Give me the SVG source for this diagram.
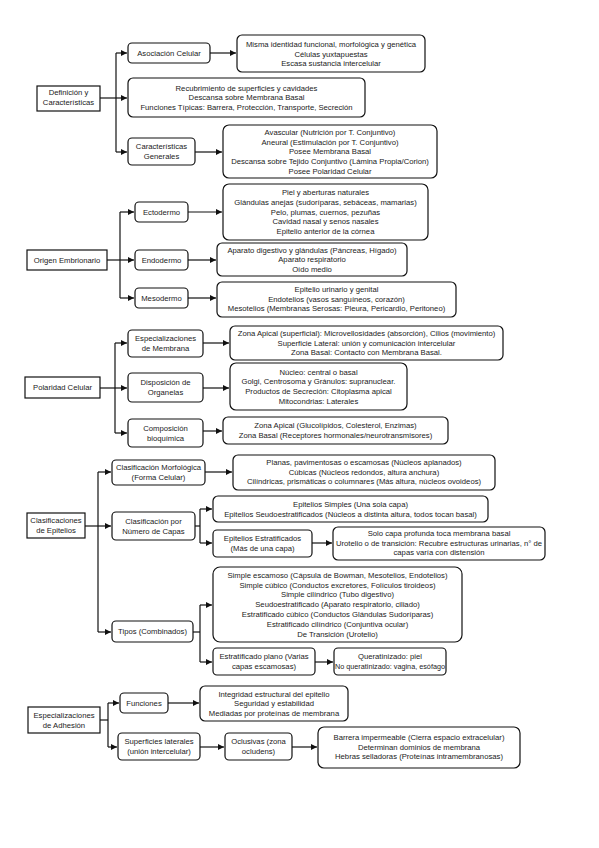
<svg xmlns="http://www.w3.org/2000/svg" width="599" height="848" viewBox="0 0 599 848">
<style>
.b{fill:#fff;stroke:#111;stroke-width:1.2}
.t{font-family:"Liberation Sans",Arial,sans-serif;font-size:7.7px;fill:#1a1a1a;text-anchor:middle}
.c{fill:none;stroke:#111;stroke-width:1.2}
</style>
<defs>
<marker id="a" markerUnits="userSpaceOnUse" markerWidth="7" markerHeight="6" refX="6" refY="3" orient="auto">
<path d="M0,0 L6,3 L0,6 Z" fill="#111"/>
</marker>
</defs>
<rect width="599" height="848" fill="#fff"/>
<g id="connectors">
<path class="c" d="M100,98 H127" marker-end="url(#a)"/>
<path class="c" d="M116,53 V152"/>
<path class="c" d="M116,53 H127" marker-end="url(#a)"/>
<path class="c" d="M116,152 H127" marker-end="url(#a)"/>
<path class="c" d="M210,53 H236" marker-end="url(#a)"/>
<path class="c" d="M195,152 H222" marker-end="url(#a)"/>
<path class="c" d="M107,260 H120"/>
<path class="c" d="M120,212 V298"/>
<path class="c" d="M120,212 H134" marker-end="url(#a)"/>
<path class="c" d="M120,260 H134" marker-end="url(#a)"/>
<path class="c" d="M120,298 H134" marker-end="url(#a)"/>
<path class="c" d="M188,212 H222" marker-end="url(#a)"/>
<path class="c" d="M188,260 H216" marker-end="url(#a)"/>
<path class="c" d="M188,298 H216" marker-end="url(#a)"/>
<path class="c" d="M100,388 H115"/>
<path class="c" d="M115,343 V433"/>
<path class="c" d="M115,343 H127" marker-end="url(#a)"/>
<path class="c" d="M115,388 H127" marker-end="url(#a)"/>
<path class="c" d="M115,433 H127" marker-end="url(#a)"/>
<path class="c" d="M203,343 H229" marker-end="url(#a)"/>
<path class="c" d="M203,388 H229" marker-end="url(#a)"/>
<path class="c" d="M203,431 H222" marker-end="url(#a)"/>
<path class="c" d="M85,526 H98"/>
<path class="c" d="M98,472 V632"/>
<path class="c" d="M98,472 H111" marker-end="url(#a)"/>
<path class="c" d="M98,526 H111" marker-end="url(#a)"/>
<path class="c" d="M98,632 H111" marker-end="url(#a)"/>
<path class="c" d="M205,472 H232" marker-end="url(#a)"/>
<path class="c" d="M195,526 H200"/>
<path class="c" d="M200,509 V543"/>
<path class="c" d="M200,509 H212" marker-end="url(#a)"/>
<path class="c" d="M200,543 H212" marker-end="url(#a)"/>
<path class="c" d="M312,543 H332" marker-end="url(#a)"/>
<path class="c" d="M193,632 H200"/>
<path class="c" d="M200,605 V662"/>
<path class="c" d="M200,605 H212" marker-end="url(#a)"/>
<path class="c" d="M200,662 H212" marker-end="url(#a)"/>
<path class="c" d="M315,662 H333" marker-end="url(#a)"/>
<path class="c" d="M100,720 H108"/>
<path class="c" d="M108,703 V747"/>
<path class="c" d="M108,703 H119" marker-end="url(#a)"/>
<path class="c" d="M108,747 H117" marker-end="url(#a)"/>
<path class="c" d="M168,703 H199" marker-end="url(#a)"/>
<path class="c" d="M200,747 H224" marker-end="url(#a)"/>
<path class="c" d="M292,747 H317" marker-end="url(#a)"/>
</g>
<g id="n1"><rect class="b" x="37" y="86" width="63" height="25"/><text class="t" x="68.5" y="95"><tspan x="68.5">Definición y</tspan><tspan x="68.5" dy="9.6">Características</tspan></text></g>
<g id="n2"><rect class="b" x="128" y="43" width="82" height="20" rx="4"/><text class="t" x="169" y="55.7">Asociación Celular</text></g>
<g id="n3"><rect class="b" x="237" y="35" width="188" height="37" rx="5"/><text class="t" x="331" y="47.2"><tspan x="331">Misma identidad funcional, morfológica y genética</tspan><tspan x="331" dy="9.5">Células yuxtapuestas</tspan><tspan x="331" dy="9.5">Escasa sustancia intercelular</tspan></text></g>
<g id="n4"><rect class="b" x="128" y="78" width="237" height="39" rx="5"/><text class="t" x="246.5" y="90.7"><tspan x="246.5">Recubrimiento de superficies y cavidades</tspan><tspan x="246.5" dy="9.5">Descansa sobre Membrana Basal</tspan><tspan x="246.5" dy="9.5">Funciones Típicas: Barrera, Protección, Transporte, Secreción</tspan></text></g>
<g id="n5"><rect class="b" x="128" y="138" width="67" height="27" rx="4"/><text class="t" x="161.5" y="149.4"><tspan x="161.5">Características</tspan><tspan x="161.5" dy="9.6">Generales</tspan></text></g>
<g id="n6"><rect class="b" x="223" y="125" width="214" height="53" rx="6"/><text class="t" x="330" y="134.8"><tspan x="330">Avascular (Nutrición por T. Conjuntivo)</tspan><tspan x="330" dy="9.7">Aneural (Estimulación por T. Conjuntivo)</tspan><tspan x="330" dy="9.7">Posee Membrana Basal</tspan><tspan x="330" dy="9.7">Descansa sobre Tejido Conjuntivo (Lámina Propia/Corion)</tspan><tspan x="330" dy="9.7">Posee Polaridad Celular</tspan></text></g>
<g id="n7"><rect class="b" x="27" y="250" width="80" height="20"/><text class="t" x="67" y="262.7">Origen Embrionario</text></g>
<g id="n8"><rect class="b" x="135" y="202" width="53" height="20" rx="4"/><text class="t" x="161.5" y="214.7">Ectodermo</text></g>
<g id="n9"><rect class="b" x="135" y="250" width="53" height="20" rx="4"/><text class="t" x="161.5" y="262.7">Endodermo</text></g>
<g id="n10"><rect class="b" x="135" y="288" width="53" height="20" rx="4"/><text class="t" x="161.5" y="300.7">Mesodermo</text></g>
<g id="n11"><rect class="b" x="223" y="184" width="205" height="56" rx="6"/><text class="t" x="325.5" y="195.3"><tspan x="325.5">Piel y aberturas naturales</tspan><tspan x="325.5" dy="9.7">Glándulas anejas (sudoríparas, sebáceas, mamarias)</tspan><tspan x="325.5" dy="9.7">Pelo, plumas, cuernos, pezuñas</tspan><tspan x="325.5" dy="9.7">Cavidad nasal y senos nasales</tspan><tspan x="325.5" dy="9.7">Epitelio anterior de la córnea</tspan></text></g>
<g id="n12"><rect class="b" x="217" y="243" width="190" height="33" rx="5"/><text class="t" x="312" y="252.7"><tspan x="312">Aparato digestivo y glándulas (Páncreas, Hígado)</tspan><tspan x="312" dy="9.5">Aparato respiratorio</tspan><tspan x="312" dy="9.5">Oído medio</tspan></text></g>
<g id="n13"><rect class="b" x="217" y="282" width="239" height="35" rx="5"/><text class="t" x="336.5" y="292.2"><tspan x="336.5">Epitelio urinario y genital</tspan><tspan x="336.5" dy="9.5">Endotelios (vasos sanguíneos, corazón)</tspan><tspan x="336.5" dy="9.5">Mesotelios (Membranas Serosas: Pleura, Pericardio, Peritoneo)</tspan></text></g>
<g id="n14"><rect class="b" x="25" y="377" width="75" height="21"/><text class="t" x="62.5" y="390.2">Polaridad Celular</text></g>
<g id="n15"><rect class="b" x="128" y="330" width="75" height="27" rx="4"/><text class="t" x="165.5" y="341.4"><tspan x="165.5">Especializaciones</tspan><tspan x="165.5" dy="9.6">de Membrana</tspan></text></g>
<g id="n16"><rect class="b" x="128" y="373" width="75" height="29" rx="4"/><text class="t" x="165.5" y="385.4"><tspan x="165.5">Disposición de</tspan><tspan x="165.5" dy="9.6">Organelas</tspan></text></g>
<g id="n17"><rect class="b" x="128" y="419" width="75" height="28" rx="4"/><text class="t" x="165.5" y="430.9"><tspan x="165.5">Composición</tspan><tspan x="165.5" dy="9.6">bioquímica</tspan></text></g>
<g id="n18"><rect class="b" x="230" y="326" width="273" height="34" rx="5"/><text class="t" x="366.5" y="336.2"><tspan x="366.5">Zona Apical (superficial): Microvellosidades (absorción), Cilios (movimiento)</tspan><tspan x="366.5" dy="9.5">Superficie Lateral: unión y comunicación intercelular</tspan><tspan x="366.5" dy="9.5">Zona Basal: Contacto con Membrana Basal.</tspan></text></g>
<g id="n19"><rect class="b" x="230" y="363" width="177" height="47" rx="6"/><text class="t" x="318.5" y="374.7"><tspan x="318.5">Núcleo: central o basal</tspan><tspan x="318.5" dy="9.6">Golgi, Centrosoma y Gránulos: supranuclear.</tspan><tspan x="318.5" dy="9.6">Productos de Secreción: Citoplasma apical</tspan><tspan x="318.5" dy="9.6">Mitocondrias: Laterales</tspan></text></g>
<g id="n20"><rect class="b" x="223" y="417" width="225" height="27" rx="5"/><text class="t" x="335.5" y="428.4"><tspan x="335.5">Zona Apical (Glucolípidos, Colesterol, Enzimas)</tspan><tspan x="335.5" dy="9.6">Zona Basal (Receptores hormonales/neurotransmisores)</tspan></text></g>
<g id="n21"><rect class="b" x="27" y="513" width="58" height="25"/><text class="t" x="56" y="523.4"><tspan x="56">Clasificaciones</tspan><tspan x="56" dy="9.6">de Epitelios</tspan></text></g>
<g id="n22"><rect class="b" x="112" y="460" width="93" height="25" rx="4"/><text class="t" x="158.5" y="470.4"><tspan x="158.5">Clasificación Morfológica</tspan><tspan x="158.5" dy="9.6">(Forma Celular)</tspan></text></g>
<g id="n23"><rect class="b" x="233" y="455" width="262" height="35" rx="5"/><text class="t" x="364" y="465.4"><tspan x="364">Planas, pavimentosas o escamosas (Núcleos aplanados)</tspan><tspan x="364" dy="9.5">Cúbicas (Núcleos redondos, altura anchura)</tspan><tspan x="364" dy="9.5">Cilíndricas, prismáticas o columnares (Más altura, núcleos ovoideos)</tspan></text></g>
<g id="n24"><rect class="b" x="112" y="512" width="83" height="28" rx="4"/><text class="t" x="153.5" y="523.9"><tspan x="153.5">Clasificación por</tspan><tspan x="153.5" dy="9.6">Número de Capas</tspan></text></g>
<g id="n25"><rect class="b" x="213" y="496" width="275" height="26" rx="5"/><text class="t" x="350.5" y="507.4"><tspan x="350.5">Epitelios Simples (Una sola capa)</tspan><tspan x="350.5" dy="9.6">Epitelios Seudoestratificados (Núcleos a distinta altura, todos tocan basal)</tspan></text></g>
<g id="n26"><rect class="b" x="213" y="530" width="99" height="27" rx="4"/><text class="t" x="262.5" y="541.4"><tspan x="262.5">Epitelios Estratificados</tspan><tspan x="262.5" dy="9.6">(Más de una capa)</tspan></text></g>
<g id="n27"><rect class="b" x="333" y="527" width="212" height="33" rx="5"/><text class="t" x="439" y="536.2"><tspan x="439">Solo capa profunda toca membrana basal</tspan><tspan x="439" dy="9.5">Urotelio o de transición: Recubre estructuras urinarias, n° de</tspan><tspan x="439" dy="9.5">capas varía con distensión</tspan></text></g>
<g id="n28"><rect class="b" x="112" y="621" width="81" height="21" rx="4"/><text class="t" x="152.5" y="634.2">Tipos (Combinados)</text></g>
<g id="n29"><rect class="b" x="213" y="567" width="249" height="75" rx="7"/><text class="t" x="337.5" y="577.8"><tspan x="337.5">Simple escamoso (Cápsula de Bowman, Mesotelios, Endotelios)</tspan><tspan x="337.5" dy="9.8">Simple cúbico (Conductos excretores, Folículos tiroideos)</tspan><tspan x="337.5" dy="9.8">Simple cilíndrico (Tubo digestivo)</tspan><tspan x="337.5" dy="9.8">Seudoestratificado (Aparato respiratorio, ciliado)</tspan><tspan x="337.5" dy="9.8">Estratificado cúbico (Conductos Glándulas Sudoríparas)</tspan><tspan x="337.5" dy="9.8">Estratificado cilíndrico (Conjuntiva ocular)</tspan><tspan x="337.5" dy="9.8">De Transición (Urotelio)</tspan></text></g>
<g id="n30"><rect class="b" x="213" y="648" width="102" height="27" rx="4"/><text class="t" x="264" y="659.4"><tspan x="264">Estratificado plano (Varias</tspan><tspan x="264" dy="9.6">capas escamosas)</tspan></text></g>
<g id="n31"><rect class="b" x="334" y="648" width="112" height="27" rx="4"/><text class="t" x="390" y="659.4">Queratinizado: piel</text><text class="t" x="390" y="669" textLength="110" lengthAdjust="spacingAndGlyphs">No queratinizado: vagina, esófago</text></g>
<g id="n32"><rect class="b" x="28" y="707" width="72" height="26"/><text class="t" x="64" y="717.9"><tspan x="64">Especializaciones</tspan><tspan x="64" dy="9.6">de Adhesión</tspan></text></g>
<g id="n33"><rect class="b" x="120" y="693" width="48" height="20" rx="4"/><text class="t" x="144" y="705.7">Funciones</text></g>
<g id="n34"><rect class="b" x="200" y="686" width="148" height="35" rx="5"/><text class="t" x="274" y="696.7"><tspan x="274">Integridad estructural del epitelio</tspan><tspan x="274" dy="9.5">Seguridad y estabilidad</tspan><tspan x="274" dy="9.5">Mediadas por proteínas de membrana</tspan></text></g>
<g id="n35"><rect class="b" x="118" y="733" width="82" height="27" rx="4"/><text class="t" x="159" y="744.4"><tspan x="159">Superficies laterales</tspan><tspan x="159" dy="9.6">(unión intercelular)</tspan></text></g>
<g id="n36"><rect class="b" x="225" y="733" width="67" height="27" rx="4"/><text class="t" x="258.5" y="744.4"><tspan x="258.5">Oclusivas (zona</tspan><tspan x="258.5" dy="9.6">ocludens)</tspan></text></g>
<g id="n37"><rect class="b" x="318" y="727" width="202" height="41" rx="6"/><text class="t" x="419" y="740.2"><tspan x="419">Barrera impermeable (Cierra espacio extracelular)</tspan><tspan x="419" dy="9.5">Determinan dominios de membrana</tspan><tspan x="419" dy="9.5">Hebras selladoras (Proteínas intramembranosas)</tspan></text></g>
</svg>
